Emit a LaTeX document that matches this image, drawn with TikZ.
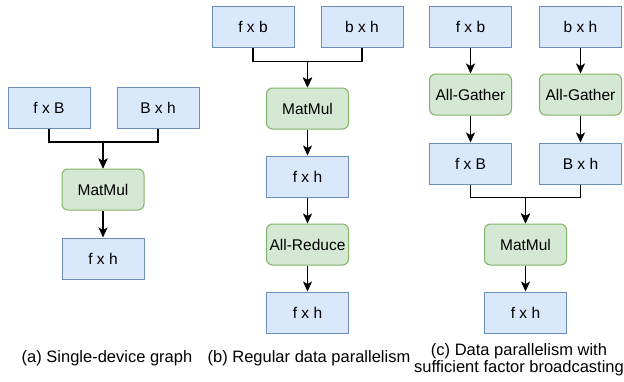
\documentclass[tikz,border=0pt]{standalone}
\usepackage{fontspec}
\setmainfont{Liberation Sans}
\usetikzlibrary{arrows.meta}

\definecolor{tensorfill}{HTML}{DAE8FC}
\definecolor{tensorline}{HTML}{6C8EBF}
\definecolor{opfill}{HTML}{D5E8D4}
\definecolor{opline}{HTML}{82B366}

\tikzset{
  tensor/.style={draw=tensorline,fill=tensorfill,line width=1pt,minimum width=82pt,minimum height=41pt,inner sep=0pt,font=\fontsize{15.5}{18}\selectfont},
  op/.style={tensor,draw=opline,fill=opfill,rounded corners=6pt},
  arr/.style={-{Stealth[length=10pt,width=9pt,inset=2.5pt]},line width=1.5pt},
  caption/.style={align=center,font=\fontsize{16.5}{17}\selectfont}
}

\begin{document}
\begin{tikzpicture}[x=1pt,y=-1pt]
  \useasboundingbox (0,0) rectangle (624,381);

  % (a)
  \node [tensor] (afB) at (49,108) {f x B};
  \node [tensor] (aBh) at (158,108) {B x h};
  \node [op] (amm) at (103,189.5) {MatMul};
  \node [tensor] (afh) at (103,258.5) {f x h};
  \draw [arr] (afB.south) -- ++(0,13) -| (amm.north);
  \draw [arr] (aBh.south) -- ++(0,13) -| (amm.north);
  \draw [arr] (amm) -- (afh);
  \node [caption] (acap) at (107,358) {(a) Single-device graph};

  % (b)
  \node [tensor] (bfb) at (253,26.5) {f x b};
  \node [tensor] (bbh) at (362,26.5) {b x h};
  \node [op] (bmm) at (307.5,108.5) {MatMul};
  \node [tensor] (bfh) at (307.5,176.5) {f x h};
  \node [op] (bar) at (307.5,244.5) {All-Reduce};
  \node [tensor] (bout) at (307.5,312.5) {f x h};
  \draw [arr] (bfb.south) -- ++(0,14) -| (bmm.north);
  \draw [arr] (bbh.south) -- ++(0,14) -| (bmm.north);
  \draw [arr] (bmm) -- (bfh);
  \draw [arr] (bfh) -- (bar);
  \draw [arr] (bar) -- (bout);
  \node [caption] (bcap) at (309,358) {(b) Regular data parallelism};

  % (c)
  \node [tensor] (cfb) at (470.5,26.5) {f x b};
  \node [tensor] (cbh) at (580.5,26.5) {b x h};
  \node [op] (cag1) at (470.5,94.5) {All-Gather};
  \node [op] (cag2) at (580.5,94.5) {All-Gather};
  \node [tensor] (cfB) at (470.5,163.5) {f x B};
  \node [tensor] (cBh) at (580.5,163.5) {B x h};
  \node [op] (cmm) at (525.5,244.5) {MatMul};
  \node [tensor] (cfh) at (525.5,312.5) {f x h};
  \draw [arr] (cfb) -- (cag1);
  \draw [arr] (cbh) -- (cag2);
  \draw [arr] (cag1) -- (cfB);
  \draw [arr] (cag2) -- (cBh);
  \draw [arr] (cfB.south) -- ++(0,13) -| (cmm.north);
  \draw [arr] (cBh.south) -- ++(0,13) -| (cmm.north);
  \draw [arr] (cmm) -- (cfh);
  \node [caption] (ccap) at (519,360) {(c) Data parallelism with\\sufficient factor broadcasting};
\end{tikzpicture}
\end{document}
